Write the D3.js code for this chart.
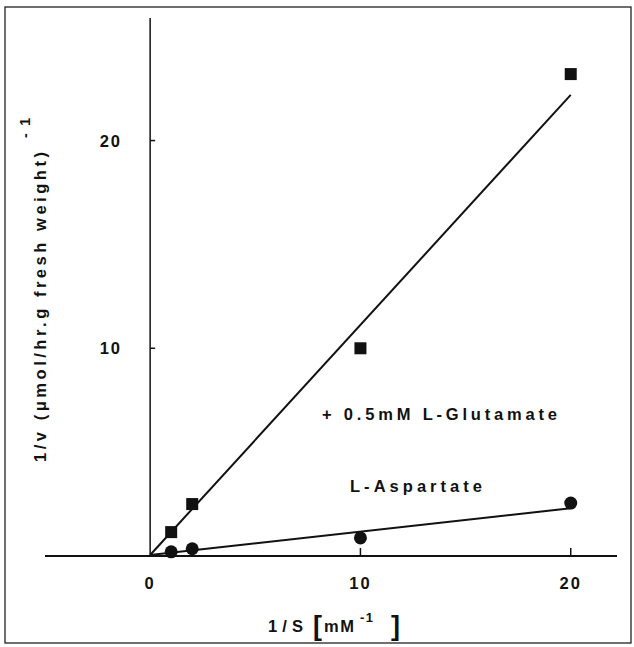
<!DOCTYPE html>
<html lang="en">
<head>
<meta charset="utf-8">
<title>Lineweaver-Burk</title>
<script src="https://cdn.jsdelivr.net/npm/d3@7"></script>
<style>
  body { margin: 0; background: #fff; }
  text { font-family: "Liberation Sans", Arial, sans-serif; font-weight: bold; fill: #111; }
</style>
</head>
<body>
<script>
// data
var invS = [1, 2, 10, 20];
var glutamate = [1.15, 2.5, 10, 23.2];
var aspartate = [0.2, 0.35, 0.87, 2.55];
// fitted lines as [x, y] end points
var glutamateFit = [[0, 0.05], [20, 22.2]];
var aspartateFit = [[0, 0.05], [20, 2.3]];
var xTicks = [0, 10, 20];
var yTicks = [10, 20];

var w = 634, h = 647;
var svg = d3.select("body").append("svg").attr("width", w).attr("height", h);

// scanned frame
svg.append("rect")
  .attr("x", 5).attr("y", 7).attr("width", 626).attr("height", 636)
  .attr("fill", "none").attr("stroke", "#222").attr("stroke-width", 1.3);

var x = d3.scaleLinear().domain([-5, 22.2]).range([45, 617]);
var y = d3.scaleLinear().domain([0, 25.9]).range([556, 18]);

// axes lines
svg.append("line")
  .attr("x1", x(-5)).attr("x2", x(22.2)).attr("y1", y(0)).attr("y2", y(0))
  .attr("stroke", "#111").attr("stroke-width", 2);
svg.append("line")
  .attr("x1", x(0)).attr("x2", x(0)).attr("y1", y(0)).attr("y2", y(25.9))
  .attr("stroke", "#111").attr("stroke-width", 1.5);

// tick marks
svg.selectAll(".xt").data(xTicks.filter(function(d) { return d > 0 })).enter()
  .append("line")
  .attr("x1", function(d) { return x(d) }).attr("x2", function(d) { return x(d) })
  .attr("y1", y(0)).attr("y2", y(0) - 8)
  .attr("stroke", "#111").attr("stroke-width", 1.5);
svg.selectAll(".yt").data(yTicks).enter()
  .append("line")
  .attr("x1", x(0)).attr("x2", x(0) + 5)
  .attr("y1", function(d) { return y(d) }).attr("y2", function(d) { return y(d) })
  .attr("stroke", "#111").attr("stroke-width", 1.5);

// tick labels
svg.selectAll(".xl").data(xTicks).enter()
  .append("text")
  .attr("x", function(d) { return x(d) }).attr("y", y(0) + 33)
  .attr("text-anchor", "middle").attr("font-size", "16.5px")
  .attr("letter-spacing", "2px")
  .text(function(d) { return d });
svg.selectAll(".yl").data(yTicks).enter()
  .append("text")
  .attr("x", 122).attr("y", function(d) { return y(d) + 6 })
  .attr("text-anchor", "end").attr("font-size", "16.5px")
  .attr("letter-spacing", "2px")
  .text(function(d) { return d });

// axis titles
var xt = svg.append("text").attr("y", 632).attr("font-size", "16.5px");
xt.append("tspan").attr("x", 268).attr("textLength", 35).attr("lengthAdjust", "spacing").text("1/S");
xt.append("tspan").attr("x", 313).attr("font-size", "27px").attr("dy", 3).text("[");
xt.append("tspan").attr("x", 324).attr("dy", -3).attr("textLength", 30).attr("lengthAdjust", "spacing").text("mM");
xt.append("tspan").attr("x", 360).attr("font-size", "13px").attr("dy", -10).attr("textLength", 13).attr("lengthAdjust", "spacing").text("-1");
xt.append("tspan").attr("x", 391).attr("font-size", "27px").attr("dy", 13).text("]");

var yt = svg.append("g").attr("transform", "translate(46,462) rotate(-90)");
yt.append("text").attr("x", 0).attr("y", 0)
  .attr("font-size", "16.5px")
  .attr("textLength", 310).attr("lengthAdjust", "spacing")
  .text("1/v (\u03bcmol/hr.g fresh weight)");
yt.append("text").attr("x", 324).attr("y", -16)
  .attr("font-size", "14px").attr("textLength", 20).attr("lengthAdjust", "spacing")
  .text("-1");

// fit lines
var line = d3.line().x(function(d) { return x(d[0]) }).y(function(d) { return y(d[1]) });
[glutamateFit, aspartateFit].forEach(function(f) {
  svg.append("path").attr("d", line(f))
    .attr("fill", "none").attr("stroke", "#111").attr("stroke-width", 2);
});

// markers
svg.selectAll(".sq").data(invS).enter()
  .append("rect")
  .attr("x", function(d) { return x(d) - 6 })
  .attr("y", function(d, i) { return y(glutamate[i]) - 6 })
  .attr("width", 12).attr("height", 12)
  .attr("fill", "#111");
svg.selectAll(".ci").data(invS).enter()
  .append("circle")
  .attr("cx", function(d) { return x(d) })
  .attr("cy", function(d, i) { return y(aspartate[i]) })
  .attr("r", 6.5)
  .attr("fill", "#111");

// series labels
svg.append("text").attr("x", 322).attr("y", 420).attr("font-size", "16.5px")
  .attr("textLength", 235).attr("lengthAdjust", "spacing").text("+ 0.5mM L-Glutamate");
svg.append("text").attr("x", 350).attr("y", 492).attr("font-size", "16.5px")
  .attr("textLength", 132).attr("lengthAdjust", "spacing").text("L-Aspartate");
</script>
</body>
</html>
